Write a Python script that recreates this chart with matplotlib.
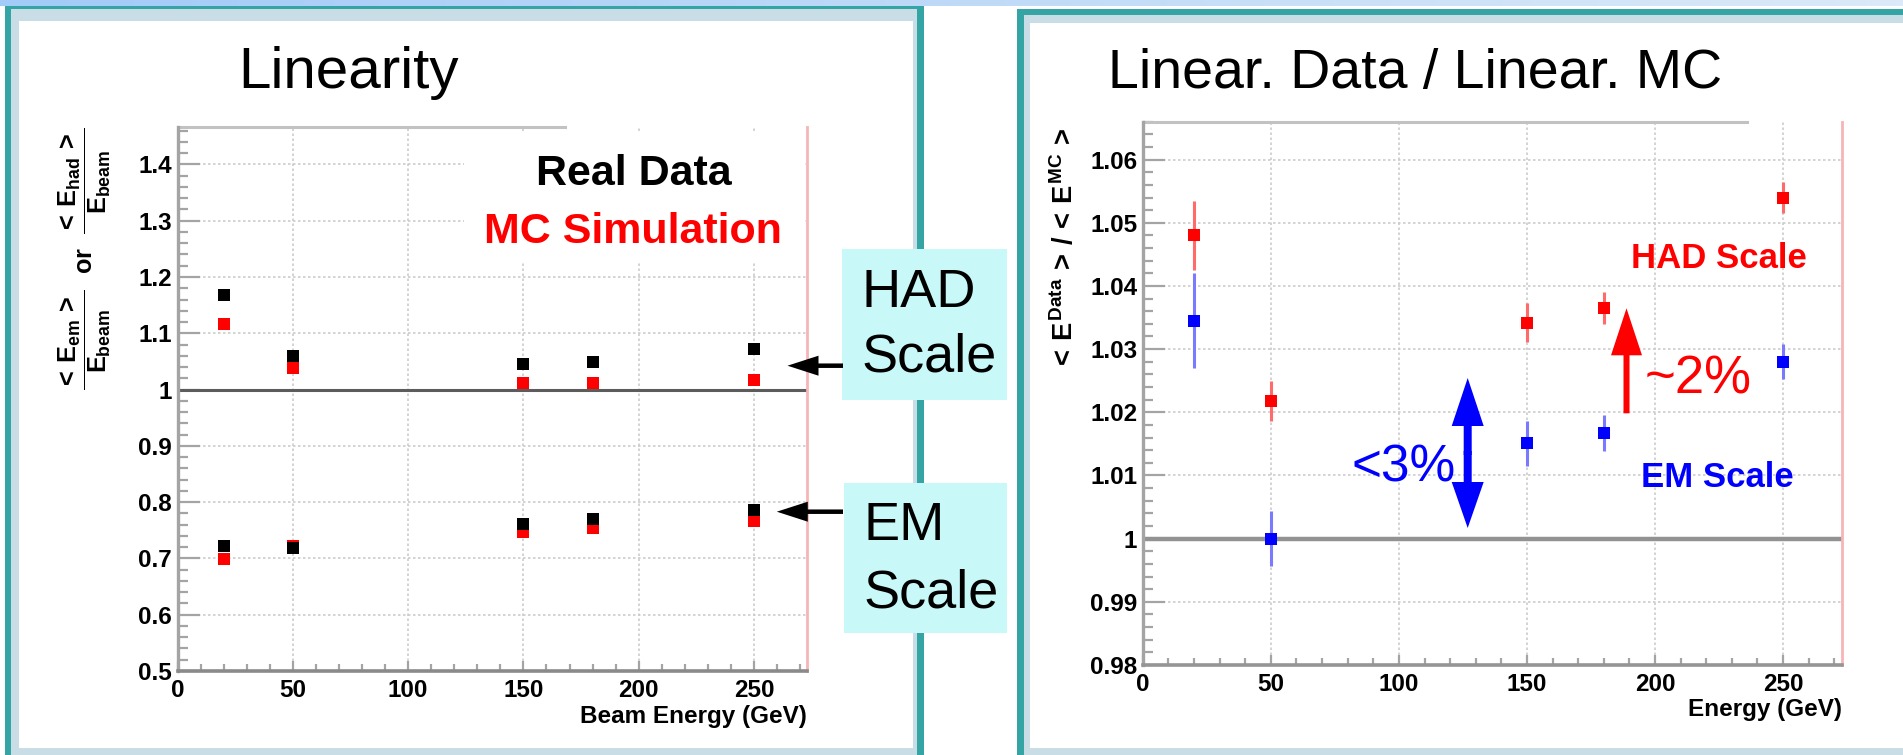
import numpy as np
import matplotlib.pyplot as plt
from matplotlib import ticker
from matplotlib.colors import LinearSegmentedColormap
from matplotlib.patches import Rectangle, FancyArrow

W, H, DPI = 1903, 755, 100

plt.rcParams['font.family'] = ['Liberation Sans', 'DejaVu Sans']
plt.rcParams['font.weight'] = 'bold'
plt.rcParams['mathtext.fontset'] = 'custom'
for k in ('rm', 'it', 'bf', 'sf'):
    plt.rcParams['mathtext.' + k] = 'Liberation Sans:bold'

# --- DATA ---
energy = [20, 50, 150, 180, 250]

# left panel: <E>/E_beam
had_data = [1.168, 1.0595, 1.0448, 1.0494, 1.0714]
had_mc = [1.116, 1.0387, 1.0121, 1.0121, 1.0169]
em_data = [0.7226, 0.719, 0.7611, 0.7694, 0.786]
em_mc = [0.6989, 0.722, 0.7464, 0.754, 0.767]

# right panel: data / MC
had_ratio = [1.048, 1.0218, 1.0342, 1.0365, 1.054]
had_ratio_err = [0.0055, 0.0032, 0.0031, 0.0026, 0.0025]
em_ratio = [1.0345, 1.000, 1.0151, 1.0167, 1.028]
em_ratio_err = [0.0075, 0.0044, 0.0036, 0.0029, 0.0028]

# --- COLOURS ---
TEAL = '#34a4a4'
STRIP = '#c9dde6'
CYAN = '#c8f8f8'
GRID = '#cccccc'
AXGRAY = '#a4a4a4'

fig = plt.figure(figsize=(W / DPI, H / DPI), dpi=DPI)


def px_box(x0, y0, x1, y1):
    # pixel box, origin top-left -> figure fraction
    return [x0 / W, 1 - y1 / H, (x1 - x0) / W, (y1 - y0) / H]


def overlay(z):
    ax = fig.add_axes([0, 0, 1, 1])
    ax.set_xlim(0, W)
    ax.set_ylim(H, 0)
    ax.axis('off')
    ax.set_zorder(z)
    ax.patch.set_visible(False)
    return ax


back = overlay(0)
front = overlay(5)

# light blue band at the top
band = LinearSegmentedColormap.from_list('band', ['#a2cbf7', '#dbe9f8'])
back.imshow(np.linspace(0, 1, 256)[None, :], extent=(0, W, 6, 0), cmap=band, aspect='auto')
back.set_xlim(0, W)
back.set_ylim(H, 0)


def rect(ax, x0, y0, x1, y1, color):
    ax.add_patch(Rectangle((x0, y0), x1 - x0, y1 - y0, fc=color, ec='none'))


# panel frames
rect(back, 5, 6, 924, 770, TEAL)
rect(back, 11, 9, 917, 755, STRIP)
rect(back, 19, 21, 913, 748, 'white')
rect(back, 1017, 9, 1920, 770, TEAL)
rect(back, 1024, 15, 1920, 755, STRIP)
rect(back, 1030, 23, 1920, 748, 'white')

axL = fig.add_axes(px_box(177.6, 126.7, 807, 671))
axR = fig.add_axes(px_box(1142.8, 121.7, 1842, 665))


def style(ax, ylim, ymaj, ymin, top_frac, base_color):
    ax.set_zorder(2)
    ax.set_xlim(0, 273)
    ax.set_ylim(*ylim)
    ax.xaxis.set_major_locator(ticker.MultipleLocator(50))
    ax.xaxis.set_minor_locator(ticker.MultipleLocator(10))
    ax.yaxis.set_major_locator(ticker.MultipleLocator(ymaj))
    ax.yaxis.set_minor_locator(ticker.MultipleLocator(ymin))
    ax.yaxis.set_major_formatter(ticker.FuncFormatter(lambda v, p: '%g' % round(v, 4)))
    ax.grid(True, which='major', color=GRID, lw=1.2, ls=(0, (1.5, 1.5)))
    ax.set_axisbelow(True)
    ax.tick_params(which='both', direction='in', color=AXGRAY, labelsize=17.5, width=1.6,
                   top=False, right=False)
    ax.tick_params(axis='y', which='major', length=16, pad=4)
    ax.tick_params(axis='y', which='minor', length=7)
    ax.tick_params(axis='x', which='major', length=7, pad=6)
    ax.tick_params(axis='x', which='minor', length=5)
    ax.spines['left'].set(color=AXGRAY, lw=2.4)
    ax.spines['bottom'].set(color=base_color, lw=2.6)
    ax.spines['right'].set(color='#f4b6b6', lw=2)
    ax.spines['top'].set_visible(False)
    ax.plot([0, top_frac], [1, 1], transform=ax.transAxes, color='#c2c2c2', lw=2.2, clip_on=False)


style(axL, (0.5, 1.467), 0.1, 0.02, 0.616, '#8a8a8a')
style(axR, (0.98, 1.066), 0.01, 0.002, 0.864, '#959595')

# left: linearity points
axL.axhline(1, color='#5c5c5c', lw=2.2, zorder=1.5)
for vals in (had_mc, em_mc):
    axL.plot(energy, vals, 's', color='#ff0000', ms=8.2, mew=0, zorder=3)
for vals in (had_data, em_data):
    axL.plot(energy, vals, 's', color='black', ms=8.2, mew=0, zorder=4)

# right: ratio with error bars
axR.axhline(1, color='#929292', lw=3.2, zorder=1.5)
axR.errorbar(energy, had_ratio, yerr=had_ratio_err, fmt='s', color='#ff0000', ecolor='#ff6a6a',
             elinewidth=2.2, capsize=0, ms=8, mew=0, zorder=3)
axR.errorbar(energy, em_ratio, yerr=em_ratio_err, fmt='s', color='#0000ff', ecolor='#7a7aff',
             elinewidth=2.2, capsize=0, ms=8, mew=0, zorder=3)

# titles
front.text(349, 88, 'Linearity', fontsize=42, fontweight='normal', ha='center', va='baseline')
front.text(1415, 88, 'Linear. Data / Linear. MC', fontsize=40, fontweight='normal',
           ha='center', va='baseline')

# axis titles
front.text(807, 705, 'Beam Energy (GeV)', fontsize=17.5, ha='right', va='top')
front.text(1842, 698, 'Energy (GeV)', fontsize=17.5, ha='right', va='top')

renderer = fig.canvas.get_renderer()


def fit_length(t, target):
    bb = t.get_window_extent(renderer)
    t.set_fontsize(t.get_fontsize() * target / bb.height)


yl = front.text(85, 259, r'$\dfrac{<\,E_{em}\,>}{E_{beam}}\ \ or\ \ \dfrac{<\,E_{had}\,>}{E_{beam}}$',
                fontsize=23, rotation=90, ha='center', va='center')
fit_length(yl, 262)
yr = front.text(1065, 249, r'$<\,E^{Data}\,>\,/\,<\,E^{MC}\,>$',
                fontsize=21, rotation=90, ha='center', va='center')
fit_length(yr, 242)

# left legend text on white background
rect(front, 464, 131, 805, 262, 'white')
front.text(633.5, 185, 'Real Data', fontsize=31, color='black', ha='center', va='baseline')
front.text(633, 243, 'MC Simulation', fontsize=31, color='#ff0000', ha='center', va='baseline')

# HAD / EM scale boxes with arrows
rect(front, 842, 249, 1007, 400, CYAN)
rect(front, 844, 483, 1007, 633, CYAN)
for x, y, s in ((861, 307, 'HAD'), (861, 372, 'Scale'), (863, 540, 'EM'), (863, 607, 'Scale')):
    front.text(x, y, s, fontsize=39, fontweight='normal', ha='left', va='baseline')


def arrow(x0, y0, x1, y1, shaft, head_w, head_l, color):
    front.add_patch(FancyArrow(x0, y0, x1 - x0, y1 - y0, width=shaft, head_width=head_w,
                               head_length=head_l, length_includes_head=True, color=color, lw=0))


arrow(843, 365.7, 787.5, 365.7, 4.5, 20, 31, 'black')
arrow(843, 511.7, 776.8, 511.7, 4.5, 20, 31, 'black')

# right panel annotations
arrow(1467.7, 455, 1467.7, 378, 8, 32, 48, '#0000ff')
arrow(1467.7, 451, 1467.7, 528, 8, 32, 46, '#0000ff')
arrow(1626.5, 413.3, 1626.5, 308.3, 6, 31, 47, '#ff0000')
front.text(1352, 482, '<3%', fontsize=37, fontweight='normal', color='#0000ff', ha='left', va='baseline')
front.text(1645, 393, '~2%', fontsize=38, fontweight='normal', color='#ff0000', ha='left', va='baseline')
front.text(1631, 268, 'HAD Scale', fontsize=25, color='#ff0000', ha='left', va='baseline')
front.text(1641, 487, 'EM Scale', fontsize=25, color='#0000ff', ha='left', va='baseline')

fig.savefig('out.png', dpi=DPI)
